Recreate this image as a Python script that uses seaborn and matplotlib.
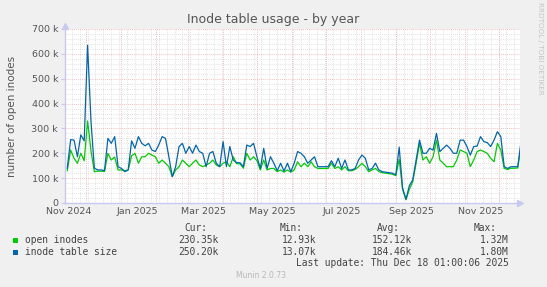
import matplotlib
matplotlib.use("Agg")
import matplotlib.pyplot as plt
import matplotlib.dates as mdates
from matplotlib.patches import Rectangle
from matplotlib.ticker import MultipleLocator, FuncFormatter
import numpy as np
import pandas as pd
import seaborn as sns

# --- data (values in thousands, one sample every 3 days) ---
start_date = "2024-11-14"
step = "3D"

open_inodes = [
    130, 213, 180, 160, 200, 170, 330, 210, 126, 128,
    128, 127, 200, 173, 185, 133, 133, 130, 133, 190,
    200, 160, 186, 186, 200, 193, 186, 160, 173, 160,
    146, 106, 133, 146, 173, 160, 146, 160, 173, 153,
    146, 153, 160, 173, 153, 146, 160, 166, 146, 186,
    158, 158, 140, 200, 173, 186, 170, 133, 173, 133,
    139, 139, 126, 133, 124, 133, 124, 133, 166, 146,
    160, 146, 166, 146, 139, 139, 139, 139, 160, 139,
    146, 133, 146, 130, 130, 135, 146, 160, 146, 126,
    133, 139, 126, 122, 120, 118, 116, 110, 175, 55,
    13, 55, 86, 160, 240, 173, 186, 160, 186, 253,
    173, 160, 146, 146, 146, 173, 213, 207, 200, 146,
    173, 207, 213, 207, 200, 180, 166, 240, 213, 139,
    135, 140, 140, 141, 230,
]
inode_table_size = [
    140, 255, 253, 186, 274, 250, 635, 330, 140, 133,
    133, 130, 260, 240, 267, 146, 139, 126, 133, 250,
    220, 267, 240, 230, 240, 213, 207, 233, 267, 260,
    186, 106, 146, 227, 240, 200, 227, 200, 233, 207,
    200, 146, 200, 207, 160, 146, 247, 146, 227, 173,
    162, 162, 146, 233, 227, 240, 186, 139, 220, 139,
    186, 160, 130, 160, 128, 160, 126, 160, 207, 200,
    186, 160, 173, 186, 146, 146, 146, 146, 170, 146,
    180, 139, 173, 133, 133, 139, 173, 193, 180, 133,
    139, 160, 133, 126, 124, 122, 120, 113, 225, 60,
    15, 70, 93, 173, 253, 200, 200, 220, 213, 280,
    207, 220, 233, 220, 200, 200, 253, 253, 227, 193,
    227, 229, 267, 247, 243, 227, 253, 287, 267, 146,
    139, 146, 146, 146, 250,
]
series_names = ["open inodes", "inode table size"]
series_colors = ["#00CC00", "#0066B3"]

legend_cur = ["230.35k", "250.20k"]
legend_min = ["12.93k", "13.07k"]
legend_avg = ["152.12k", "184.46k"]
legend_max = ["1.32M", "1.80M"]

dates = pd.date_range(start_date, periods=len(open_inodes), freq=step)
df = pd.concat([
    pd.DataFrame({"date": dates, "value": np.array(open_inodes) * 1000, "field": series_names[0]}),
    pd.DataFrame({"date": dates, "value": np.array(inode_table_size) * 1000, "field": series_names[1]}),
])

# --- figure ---
W, H = 547, 287
fig = plt.figure(figsize=(W / 100, H / 100), dpi=100, facecolor="#F0F0F0")
ax = fig.add_axes([65 / W, (H - 203) / H, 455 / W, 174 / H])
ax.set_facecolor("white")

x0, x1 = pd.Timestamp("2024-11-12"), pd.Timestamp("2025-12-20")

# grid: weekly gray, monthly red, 20k gray, 100k red
grid_style = dict(linestyles=(0, (1, 1.5)), linewidth=0.6, zorder=0)
ax.vlines(pd.date_range(x0, x1, freq="W-MON"), 0, 700000, colors="#d8d8d8", **grid_style)
ax.vlines(pd.date_range(x0, x1, freq="MS"), 0, 700000, colors="#f0a8a8", **grid_style)
ax.yaxis.set_major_locator(MultipleLocator(100000))
ax.yaxis.set_minor_locator(MultipleLocator(20000))
ax.grid(which="minor", axis="y", color="#d8d8d8", linestyle=(0, (1, 1.5)), linewidth=0.6)
ax.grid(which="major", axis="y", color="#f0a8a8", linestyle=(0, (1, 1.5)), linewidth=0.6)
ax.grid(which="major", axis="x", visible=False)
ax.set_axisbelow(True)

sns.lineplot(data=df, x="date", y="value", hue="field", palette=series_colors,
             linewidth=0.9, legend=False, ax=ax)

ax.set_xlim(x0, x1)
ax.set_ylim(0, 700000)
ax.xaxis.set_major_locator(mdates.MonthLocator(bymonth=[1, 3, 5, 7, 9, 11], bymonthday=15))
ax.xaxis.set_major_formatter(mdates.DateFormatter("%b %Y"))
ax.yaxis.set_major_formatter(FuncFormatter(lambda v, p: "0" if v == 0 else f"{int(v / 1000)} k"))
ax.tick_params(axis="x", length=0, pad=3, labelsize=6.8, labelcolor="#555555")
ax.tick_params(axis="y", which="major", length=3, color="#c8c8f0", pad=2,
               labelsize=6.8, labelcolor="#555555")
ax.tick_params(axis="y", which="minor", length=0)
ax.set_xlabel("")
ax.set_ylabel("")

for s in ["top", "right"]:
    ax.spines[s].set_visible(False)
for s in ["left", "bottom"]:
    ax.spines[s].set_color("#c8c8f0")
    ax.spines[s].set_linewidth(1.0)
ax.plot(1.0, 0, ">", color="#c8c8f0", markersize=4, transform=ax.transAxes, clip_on=False)
ax.plot(0, 1.02, "^", color="#c8c8f0", markersize=4, transform=ax.transAxes, clip_on=False)

# --- texts ---
def fx(px):
    return px / W

def fy(py):
    return 1 - py / H

fig.text(fx(273), fy(19), "Inode table usage - by year", ha="center", va="center",
         fontsize=9, color="#555555")
fig.text(fx(12), fy(116), "number of open inodes", rotation=90, ha="center", va="center",
         fontsize=7.5, color="#555555")
fig.text(fx(540), fy(48), "RRDTOOL / TOBI OETIKER", rotation=270, ha="center", va="center",
         fontsize=5.2, color="#c4c4c4")

mono = dict(family="DejaVu Sans Mono", fontsize=6.9, color="#444444", va="center")
col_right = [207, 303, 400, 497]
for xr, head in zip(col_right, ["Cur:", "Min:", "Avg:", "Max:"]):
    fig.text(fx(xr), fy(228), head, ha="right", **mono)

val_right = [218, 316, 412, 509]
rows_y = [240, 252]
for i, name in enumerate(series_names):
    fig.patches.append(Rectangle((fx(13), fy(rows_y[i] + 3)), 5 / W, 5 / H,
                                 transform=fig.transFigure, facecolor=series_colors[i],
                                 edgecolor="none"))
    fig.text(fx(25), fy(rows_y[i]), name, ha="left", **mono)
    for xr, col in zip(val_right, [legend_cur, legend_min, legend_avg, legend_max]):
        fig.text(fx(xr), fy(rows_y[i]), col[i], ha="right", **mono)

fig.text(fx(509), fy(263), "Last update: Thu Dec 18 01:00:06 2025", ha="right", **mono)
fig.text(fx(261), fy(276), "Munin 2.0.73", ha="center", va="center", fontsize=5.5, color="#b8b8b8")

fig.savefig("out.png", dpi=100, facecolor=fig.get_facecolor())
